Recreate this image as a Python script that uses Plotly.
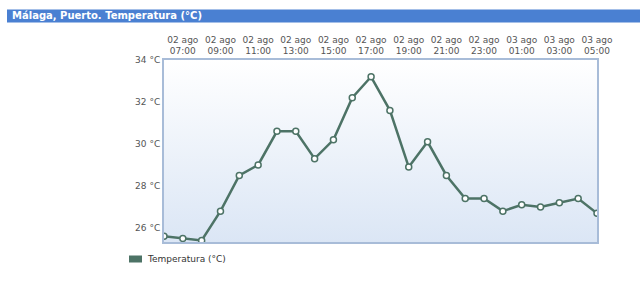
import plotly.graph_objects as go

dates = ["02 ago"] * 18 + ["03 ago"] * 6
hours = ["06:00", "07:00", "08:00", "09:00", "10:00", "11:00", "12:00", "13:00",
         "14:00", "15:00", "16:00", "17:00", "18:00", "19:00", "20:00", "21:00",
         "22:00", "23:00", "00:00", "01:00", "02:00", "03:00", "04:00", "05:00"]
temps = [25.6, 25.5, 25.4, 26.8, 28.5, 29.0, 30.6, 30.6, 29.3, 30.2, 32.2, 33.2,
         31.6, 28.9, 30.1, 28.5, 27.4, 27.4, 26.8, 27.1, 27.0, 27.2, 27.4, 26.7]
y_ticks = [26, 28, 30, 32, 34]
series_name = "Temperatura (°C)"
title_text = "Málaga, Puerto. Temperatura (°C)"

idx = list(range(len(temps)))
tick_text = [f"{d}<br>{h}" if i % 2 == 1 else "" for i, (d, h) in enumerate(zip(dates, hours))]

line_col = "#4d7366"
y_lo, y_hi = 25.33, 34.0
n = len(temps) - 1

fig = go.Figure()
# gradient background
fig.add_trace(go.Scatter(
    x=[0, n, n, 0, 0], y=[y_hi, y_hi, y_lo, y_lo, y_hi],
    mode="lines", line=dict(width=0), fill="toself",
    fillgradient=dict(type="vertical", colorscale=[[0, "#dbe6f5"], [1, "#ffffff"]]),
    hoverinfo="skip", showlegend=False))
fig.add_trace(go.Scatter(
    x=idx, y=temps, mode="lines+markers",
    line=dict(color=line_col, width=2.5),
    marker=dict(size=6, color="white", line=dict(color=line_col, width=1.5)),
    showlegend=False, name=series_name))

W, H = 640, 285
L, R, T, B = 164, 43, 60, 43
pw, ph = W - L - R, H - T - B

def px_x(x):
    return (x - L) / pw

def px_y(y):
    return (H - B - y) / ph

fig.update_layout(
    width=W, height=H,
    margin=dict(l=L, r=R, t=T, b=B, autoexpand=False),
    paper_bgcolor="white", plot_bgcolor="rgba(0,0,0,0)",
    font=dict(family="DejaVu Sans", size=9, color="#555"),
    showlegend=False,
    xaxis=dict(range=[0, n], side="top", tickmode="array", tickvals=idx,
               ticktext=tick_text, showgrid=True, gridcolor="#ccd5e2",
               showline=True, mirror=True, linecolor="#a8bcd8", linewidth=2,
               ticks="", zeroline=False, tickfont=dict(size=9, color="#555")),
    yaxis=dict(range=[y_lo, y_hi], tickmode="array", tickvals=y_ticks,
               ticktext=[f"{v} °C" for v in y_ticks], showgrid=True,
               gridcolor="#ccd5e2", showline=True, mirror=True,
               linecolor="#a8bcd8", linewidth=2, ticks="", zeroline=False,
               tickfont=dict(size=9, color="#555")),
    shapes=[dict(type="rect", xref="paper", yref="paper",
                 x0=px_x(7), x1=px_x(640), y0=px_y(22.5), y1=px_y(9.5),
                 fillcolor="#4a80d2", line=dict(width=0), layer="above"),
            dict(type="rect", xref="paper", yref="paper",
                 x0=px_x(129), x1=px_x(142), y0=px_y(262.5), y1=px_y(255.5),
                 fillcolor=line_col, line=dict(width=0))],
    annotations=[dict(text="<b>" + title_text + "</b>", xref="paper", yref="paper",
                      x=px_x(10), y=px_y(16), xanchor="left", yanchor="middle",
                      showarrow=False, font=dict(family="DejaVu Sans", size=10, color="white")),
                 dict(text=series_name, xref="paper", yref="paper",
                      x=px_x(145), y=px_y(259), xanchor="left", yanchor="middle",
                      showarrow=False, font=dict(family="DejaVu Sans", size=9, color="#333"))],
)

fig.write_html("out.html")
